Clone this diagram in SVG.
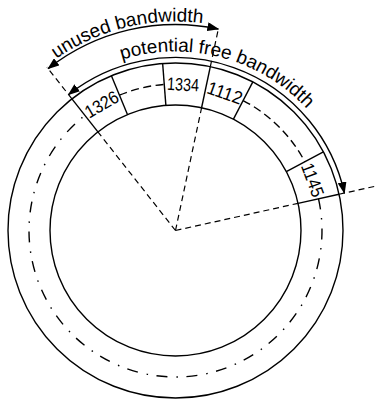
<svg xmlns="http://www.w3.org/2000/svg" width="375" height="400" viewBox="0 0 375 400">
  <style>
    .solid { fill: none; stroke: #000; stroke-width: 1.4; }
    .dash { fill: none; stroke: #000; stroke-width: 1.2; stroke-dasharray: 6 4; }
    .gapdash { fill: none; stroke: #000; stroke-width: 1.4; stroke-dasharray: 8 4.5; }
    .dashdot { fill: none; stroke: #000; stroke-width: 1.4; stroke-dasharray: 11 8.5 1.5 9; }
    .arrow { fill: none; stroke: #000; stroke-width: 1.4; marker-start: url(#head); marker-end: url(#head); }
    .lbl { font-family: "Liberation Sans", Arial, sans-serif; font-size: 19px; fill: #000; }
    .num { font-family: "Liberation Sans", Arial, sans-serif; font-size: 18px; fill: #000; text-anchor: middle; }
  </style>
  <defs>
    <marker id="head" viewBox="0 0 12 9" refX="11" refY="4.5" markerWidth="12" markerHeight="9" markerUnits="userSpaceOnUse" orient="auto-start-reverse">
      <path d="M0,0 L12,4.5 L0,9 Z" fill="#000"/>
    </marker>
    <path id="unusedPath" d="M-25.06,171.67 A209,209 0 0 1 326.75,86.27"/>
    <path id="freePath" d="M20.25,141.41 A179,179 0 0 1 354.5,230.03"/>
  </defs>

  <g id="ring">
    <circle class="solid" cx="175.5" cy="230.5" r="167.5"/>
    <circle class="solid" cx="175.5" cy="230.5" r="125.5"/>
    <path class="dashdot" d="M318.53,198.8 A146.5,146.5 0 1 1 84.9,115.37"/>
    <path class="gapdash" d="M119.43,95.15 A146.5,146.5 0 0 1 164.26,84.42"/>
    <path class="gapdash" d="M243.14,100.55 A146.5,146.5 0 0 1 304.84,161.72"/>
  </g>

  <g id="block-1326">
    <line class="solid" x1="97.89" y1="131.87" x2="71.92" y2="98.86"/>
    <line class="solid" x1="127.47" y1="114.55" x2="111.4" y2="75.75"/>
    <text class="num" textLength="36" lengthAdjust="spacingAndGlyphs" transform="translate(104.77,109.68) rotate(-30.35)">1326</text>
  </g>
  <g id="block-1334">
    <line class="solid" x1="165.87" y1="105.36" x2="162.65" y2="63.49"/>
    <line class="solid" x1="201.59" y1="107.75" x2="210.32" y2="66.67"/>
    <text class="num" textLength="32" lengthAdjust="spacingAndGlyphs" transform="translate(182.83,90.7) rotate(3)">1334</text>
  </g>
  <g id="block-1112">
    <line class="solid" x1="233.44" y1="119.18" x2="252.83" y2="81.93"/>
    <text class="num" textLength="36" lengthAdjust="spacingAndGlyphs" transform="translate(222.81,98.73) rotate(19.75)">1112</text>
  </g>
  <g id="block-1145">
    <line class="solid" x1="286.3" y1="171.58" x2="323.39" y2="151.86"/>
    <line class="solid" x1="298.03" y1="203.34" x2="339.03" y2="194.25"/>
    <text class="num" textLength="35" lengthAdjust="spacingAndGlyphs" transform="translate(306.85,182.05) rotate(69.75)">1145</text>
  </g>

  <g id="connectors">
    <line class="dash" x1="175.5" y1="230.5" x2="97.89" y2="131.87"/>
    <line class="dash" x1="71.92" y1="98.86" x2="46.87" y2="67.03"/>
    <line class="dash" x1="175.5" y1="230.5" x2="201.59" y2="107.75"/>
    <line class="dash" x1="210.32" y1="66.67" x2="218.54" y2="28.03"/>
    <line class="dash" x1="175.5" y1="230.5" x2="298.03" y2="203.34"/>
    <line class="dash" x1="339.03" y1="194.25" x2="375" y2="186.3"/>
    <path id="free-arrow" class="arrow" d="M68.52,94.54 A173,173 0 0 1 344.4,193.06"/>
    <path id="unused-arrow" class="arrow" d="M48.11,68.6 A206,206 0 0 1 218.33,29.0"/>
  </g>

  <g id="labels">
    <text class="lbl" text-anchor="middle"><textPath href="#unusedPath" startOffset="50%">unused bandwidth</textPath></text>
    <text class="lbl" text-anchor="middle"><textPath href="#freePath" startOffset="50%">potential free bandwidth</textPath></text>
  </g>
</svg>
